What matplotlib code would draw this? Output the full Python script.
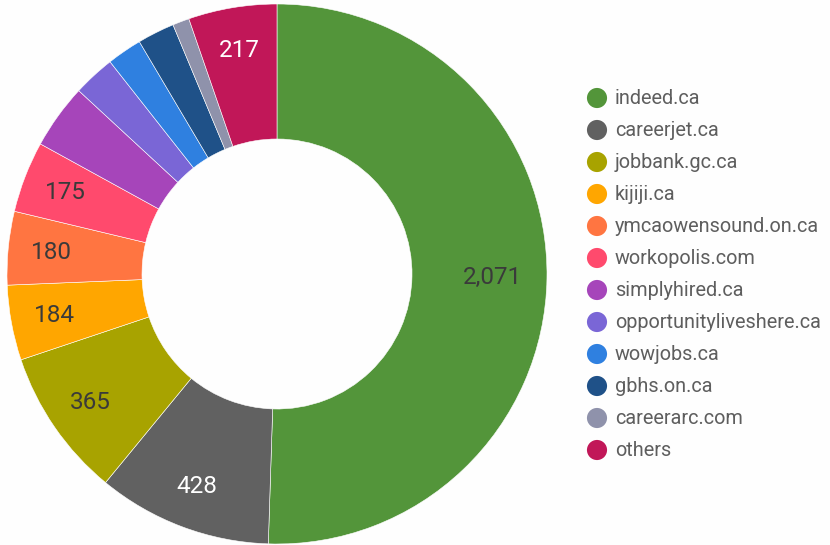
import matplotlib
matplotlib.use("Agg")
import matplotlib.pyplot as plt
import numpy as np

plt.rcParams["font.family"] = ["Roboto", "DejaVu Sans"]

sources = ["indeed.ca", "careerjet.ca", "jobbank.gc.ca", "kijiji.ca",
           "ymcaowensound.on.ca", "workopolis.com", "simplyhired.ca",
           "opportunityliveshere.ca", "wowjobs.ca", "gbhs.on.ca",
           "careerarc.com", "others"]
counts = [2071, 428, 365, 184, 180, 175, 159, 103, 86, 91, 41, 217]
colors = ["#53953a", "#616161", "#a8a300", "#ffa600", "#ff7541", "#ff4a6d",
          "#a645ba", "#7a66d6", "#2f80e0", "#1f5188", "#8f92ab", "#c11758"]
# slices that get white labels
light_text = ["careerjet.ca", "others"]
min_share = 0.04

W, H = 830, 545
fig = plt.figure(figsize=(W / 100, H / 100), dpi=100)
fig.patch.set_facecolor("#fefefe")

# pie axes: center (277, 274), radius 270 px
cx, cy, r = 277, 274, 270
ax = fig.add_axes([(cx - r) / W, (H - cy - r) / H, 2 * r / W, 2 * r / H])
ax.set_aspect("equal")

total = sum(counts)
wedges, _ = ax.pie(counts, colors=colors, startangle=90, counterclock=False,
                   radius=1.0, wedgeprops=dict(width=0.5, edgecolor="white", linewidth=0.4))

for w, name, v in zip(wedges, sources, counts):
    if v / total < min_share:
        continue
    ang = np.deg2rad((w.theta1 + w.theta2) / 2)
    rr = 0.84 if v < 1000 else 0.80
    col = "white" if name in light_text else "#3a3a3a"
    ax.text(rr * np.cos(ang), rr * np.sin(ang), f"{v:,}", ha="center", va="center",
            fontsize=17.5, color=col)
ax.set_xlim(-1, 1)
ax.set_ylim(-1, 1)
ax.axis("off")

# legend drawn by hand in pixel coordinates
lax = fig.add_axes([0, 0, 1, 1])
lax.set_xlim(0, W)
lax.set_ylim(H, 0)
lax.axis("off")
y0, step = 98, 32
for i, (name, c) in enumerate(zip(sources, colors)):
    y = y0 + i * step
    lax.scatter([597], [y], s=210, color=c, edgecolors="none")
    lax.text(615, y + 1, name, ha="left", va="center", fontsize=14.3, color="#5e5e5e")

fig.savefig("out.png", dpi=100, facecolor=fig.get_facecolor())
